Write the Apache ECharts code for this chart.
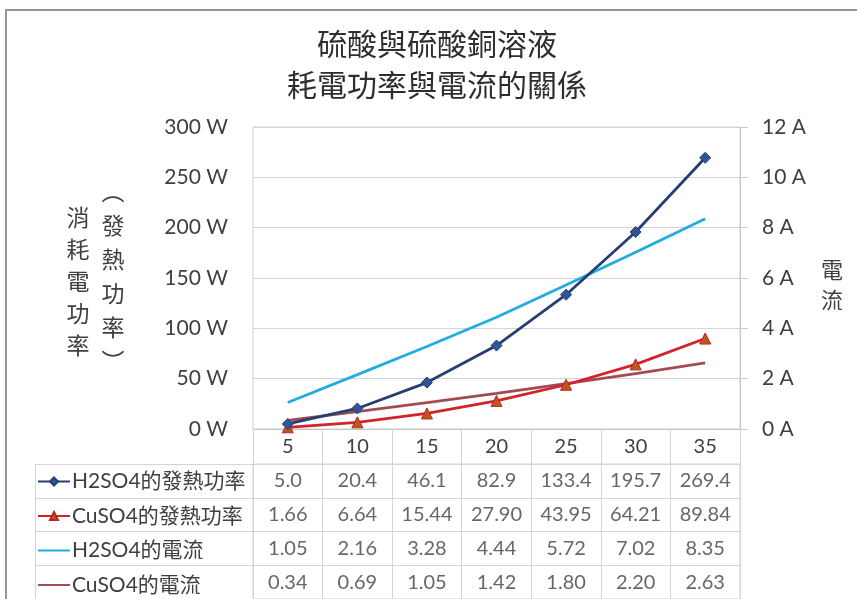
<!DOCTYPE html>
<html>
<head>
<meta charset="utf-8">
<script src="https://cdn.jsdelivr.net/npm/echarts@6/dist/echarts.min.js"></script>
<style>
  html, body { margin: 0; padding: 0; background: #fff; }
  #chart { width: 857px; height: 599px; }
</style>
</head>
<body>
<div id="chart"></div>
<script>
// Applied voltage steps (category axis and table header)
const categories = ['5', '10', '15', '20', '25', '30', '35'];

// Heating power (W)
const h2so4Power = [5.0, 20.4, 46.1, 82.9, 133.4, 195.7, 269.4];
const cuso4Power = [1.66, 6.64, 15.44, 27.90, 43.95, 64.21, 89.84];

// Current (A)
const h2so4Current = [1.05, 2.16, 3.28, 4.44, 5.72, 7.02, 8.35];
const cuso4Current = [0.34, 0.69, 1.05, 1.42, 1.80, 2.20, 2.63];

const seriesNames = ['H2SO4的發熱功率', 'CuSO4的發熱功率', 'H2SO4的電流', 'CuSO4的電流'];
const rowDecimals = [1, 2, 2, 2];

const powerTicks = { min: 0, max: 300, interval: 50, unit: ' W' };
const currentTicks = { min: 0, max: 12, interval: 2, unit: ' A' };

const FONT = "Lato, 'Noto Sans CJK TC', sans-serif";
const CJK = "'Noto Sans CJK TC', sans-serif";
const TEXT = '#404040';
const GRID_LINE = '#d4d4d4';

// Cells of the data table: [column, row, value]
const rows = [h2so4Power, cuso4Power, h2so4Current, cuso4Current];
const tableCells = [];
rows.forEach((vals, r) => vals.forEach((v, c) => tableCells.push([c, r, v])));

const chart = echarts.init(document.getElementById('chart'));

chart.setOption({
  backgroundColor: '#fff',
  textStyle: { fontFamily: FONT },
  animation: false,
  title: {
    text: '硫酸與硫酸銅溶液\n耗電功率與電流的關係',
    left: 437,
    top: 23,
    padding: 0,
    textAlign: 'center',
    textStyle: { fontFamily: CJK, fontSize: 30, fontWeight: 'normal', color: '#2e2e2e', lineHeight: 41 }
  },
  graphic: [
    {
      type: 'rect', z: -10, silent: true,
      shape: { x: 6, y: 10, width: 1000, height: 1000 },
      style: { fill: '#fff', stroke: '#959595', lineWidth: 2 }
    },
    {
      type: 'text', x: 78, y: 201, silent: true,
      style: { text: '消\n耗\n電\n功\n率', fontFamily: CJK, fontSize: 23, lineHeight: 32, fill: TEXT, align: 'center', verticalAlign: 'top' }
    },
    {
      type: 'text', x: 113, y: 174, silent: true,
      style: { text: '︵\n發\n熱\n功\n率\n︶', fontFamily: CJK, fontSize: 23, lineHeight: 34, fill: TEXT, align: 'center', verticalAlign: 'top' }
    },
    {
      type: 'text', x: 832, y: 255, silent: true,
      style: { text: '電\n流', fontFamily: CJK, fontSize: 22, lineHeight: 30, fill: TEXT, align: 'center', verticalAlign: 'top' }
    }
  ],
  legend: {
    data: [
      { name: seriesNames[0] },
      { name: seriesNames[1] },
      { name: seriesNames[2], itemStyle: { opacity: 0 } },
      { name: seriesNames[3], itemStyle: { opacity: 0 } }
    ],
    orient: 'vertical',
    left: 37,
    top: 471,
    height: 180,
    padding: 0,
    itemWidth: 32,
    itemHeight: 10,
    itemGap: 13.5,
    selectedMode: false,
    textStyle: { fontFamily: FONT, fontSize: 21, lineHeight: 20, color: TEXT, padding: [0, 0, 0, -3] }
  },
  grid: [
    { left: 253, top: 127, width: 487, height: 302, show: true, borderColor: '#d0d0d0', borderWidth: 1 },
    { left: 253, top: 464, width: 487, height: 139, show: true, borderColor: GRID_LINE, borderWidth: 1 }
  ],
  xAxis: [
    {
      gridIndex: 0, type: 'category', data: categories, boundaryGap: true,
      axisLine: { lineStyle: { color: '#c4c4c4' } },
      axisTick: { show: true, interval: 0, length: 35, lineStyle: { color: GRID_LINE } },
      axisLabel: { fontSize: 20, color: TEXT, margin: 8 },
      splitLine: { show: false }
    },
    {
      gridIndex: 1, type: 'category', data: categories, boundaryGap: true,
      axisLine: { show: false }, axisTick: { show: false }, axisLabel: { show: false },
      splitLine: { show: true, interval: 0, lineStyle: { color: GRID_LINE } }
    }
  ],
  yAxis: [
    {
      gridIndex: 0, type: 'value', position: 'left',
      min: powerTicks.min, max: powerTicks.max, interval: powerTicks.interval,
      axisLine: { show: false }, axisTick: { show: false },
      axisLabel: { formatter: v => v + powerTicks.unit, fontSize: 21, color: TEXT, margin: 25 },
      splitLine: { lineStyle: { color: GRID_LINE } }
    },
    {
      gridIndex: 0, type: 'value', position: 'right',
      min: currentTicks.min, max: currentTicks.max, interval: currentTicks.interval,
      axisLine: { show: true, lineStyle: { color: '#c8c8c8' } },
      axisTick: { show: true, length: 8, lineStyle: { color: '#c8c8c8' } },
      axisLabel: { formatter: v => v + currentTicks.unit, fontSize: 21, color: TEXT, margin: 22 },
      splitLine: { show: false }
    },
    {
      gridIndex: 1, type: 'category', data: seriesNames, inverse: true, boundaryGap: true,
      axisLine: { show: false }, axisLabel: { show: false },
      axisTick: { show: true, interval: 0, length: 218, lineStyle: { color: GRID_LINE } },
      splitLine: { show: true, interval: 0, lineStyle: { color: GRID_LINE } }
    },
    {
      gridIndex: 1, type: 'value', position: 'left', offset: 218, min: 0, max: 1,
      axisLine: { show: true, lineStyle: { color: GRID_LINE } },
      axisTick: { show: false }, axisLabel: { show: false }, splitLine: { show: false }
    }
  ],
  series: [
    {
      name: seriesNames[0], type: 'line', xAxisIndex: 0, yAxisIndex: 0, data: h2so4Power,
      symbol: 'diamond', symbolSize: 11, z: 4,
      lineStyle: { color: '#263f72', width: 2.8 },
      itemStyle: { color: '#2f5597', borderColor: '#263f72', borderWidth: 1 }
    },
    {
      name: seriesNames[1], type: 'line', xAxisIndex: 0, yAxisIndex: 0, data: cuso4Power,
      symbol: 'triangle', symbolSize: 11, z: 3,
      lineStyle: { color: '#d2222a', width: 2.8 },
      itemStyle: { color: '#c0561e', borderColor: '#b52a20', borderWidth: 1 }
    },
    {
      name: seriesNames[2], type: 'line', xAxisIndex: 0, yAxisIndex: 1, data: h2so4Current,
      symbol: 'none', z: 2,
      lineStyle: { color: '#22ade2', width: 2.8 },
      itemStyle: { color: '#22ade2' }
    },
    {
      name: seriesNames[3], type: 'line', xAxisIndex: 0, yAxisIndex: 1, data: cuso4Current,
      symbol: 'none', z: 2,
      lineStyle: { color: '#a24b55', width: 2.8 },
      itemStyle: { color: '#a24b55' }
    },
    {
      name: 'table', type: 'scatter', xAxisIndex: 1, yAxisIndex: 2,
      data: tableCells, symbol: 'rect', symbolSize: 1, silent: true,
      itemStyle: { color: 'transparent' },
      label: {
        show: true, position: 'inside', fontSize: 20, color: TEXT, fontFamily: FONT,
        formatter: p => p.value[2].toFixed(rowDecimals[p.value[1]])
      },
      emphasis: { disabled: true }
    }
  ]
});
</script>
</body>
</html>
